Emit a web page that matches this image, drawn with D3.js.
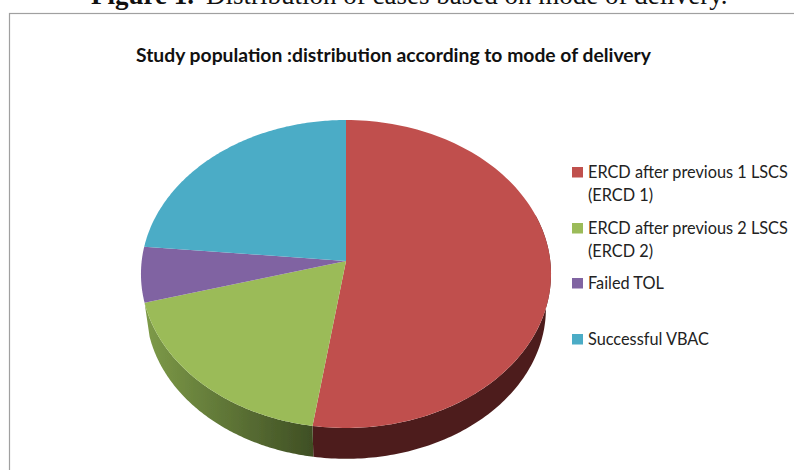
<!DOCTYPE html>
<html>
<head>
<meta charset="utf-8">
<script src="https://cdn.jsdelivr.net/npm/d3@7"></script>
<style>
    html, body { margin: 0; padding: 0; background: #fff; overflow: hidden; }
    svg { display: block; }
</style>
</head>
<body>
<div id="chart"></div>
<script>
const caption = 'Distribution of cases based on mode of delivery.';
const chartTitle = 'Study population :distribution according to mode of delivery';
const categories = ['ERCD after previous 1 LSCS (ERCD 1)', 'ERCD after previous 2 LSCS (ERCD 2)', 'Failed TOL', 'Successful VBAC'];
const legendLines = [['ERCD after previous 1 LSCS', '(ERCD 1)'], ['ERCD after previous 2 LSCS', '(ERCD 2)'], ['Failed TOL'], ['Successful VBAC']];
const shares = [52.4, 18.3, 5.8, 23.5];
const colors = ['#c0504d', '#9bbb59', '#8064a2', '#4bacc6'];

const width = 794;
const height = 470;
const svg = d3.select('#chart').append('svg').attr('width', width).attr('height', height);

// figure caption, cut off by the top of the page
const cap = svg.append('text').attr('x', 91).attr('y', 4)
    .style('font-family', '"Liberation Serif"').style('font-size', '27px').attr('fill', '#111');
cap.append('tspan').style('font-weight', 'bold').text('Figure 1.');
cap.append('tspan').attr('dx', 12).text(caption);

// chart frame
svg.append('rect').attr('x', 9.5).attr('y', 13.5).attr('width', 800).attr('height', 470)
    .attr('fill', '#fff').attr('stroke', '#a0a0a0').attr('stroke-width', 1.2);

svg.append('text').attr('x', 136).attr('y', 62)
    .attr('textLength', 515).attr('lengthAdjust', 'spacingAndGlyphs')
    .style('font-family', 'Lato').style('font-weight', 'bold').style('font-size', '18px')
    .attr('fill', '#111').text(chartTitle);

// pie: angles from d3.pie, tilted with a small perspective
const cx = 346, cy = 261, rx = 204.3, ry = 152.9, k = 0.0844;
const project = (a, scale, dy) => {
    const u = Math.sin(a), v = -Math.cos(a), w = 1 - k * v;
    return [cx + scale * rx * u / w, cy + dy + scale * ry * v / w];
};
const arcs = d3.pie().sort(null).value((d) => d)(shares);
const line = d3.line();
const arcPoints = (a0, a1, scale, dy) =>
    d3.range(0, 121).map((i) => project(a0 + (a1 - a0) * i / 120, scale, dy));

const defs = svg.append('defs');
defs.append('filter').attr('id', 'soft').append('feGaussianBlur').attr('stdDeviation', 0.5);
const sideGrad = defs.append('linearGradient').attr('id', 'greenSide')
    .attr('gradientUnits', 'userSpaceOnUse').attr('x1', 146).attr('x2', 313).attr('y1', 0).attr('y2', 0);
sideGrad.append('stop').attr('offset', '0%').attr('stop-color', '#7d9a48');
sideGrad.append('stop').attr('offset', '100%').attr('stop-color', '#3f4f24');

const pie = svg.append('g').attr('filter', 'url(#soft)');
const sideScale = 0.975, sideDrop = 35;

// side wall, only the front half shows
const sideFill = ['#4e1f1e', 'url(#greenSide)'];
arcs.slice(0, 2).forEach((d, i) => {
    const a0 = Math.max(d.startAngle, Math.PI * 0.4);
    const a1 = Math.min(d.endAngle, Math.PI * 1.42);
    pie.append('path')
        .attr('d', line(arcPoints(a0, a1, 1, 0).concat(arcPoints(a0, a1, sideScale, sideDrop).reverse())) + 'Z')
        .attr('fill', sideFill[i]);
});

// top faces
pie.selectAll('path.slice').data(arcs).enter().append('path')
    .attr('class', 'slice')
    .attr('d', (d) => line([[cx, cy]].concat(arcPoints(d.startAngle, d.endAngle, 1, 0))) + 'Z')
    .attr('fill', (d, i) => colors[i]);

// legend
const legendY = d3.scaleOrdinal().domain(categories).range([167, 223, 278, 334]);
const legend = svg.selectAll('g.legend').data(categories).enter().append('g')
    .attr('class', 'legend')
    .attr('transform', (d) => `translate(572,${legendY(d)})`);
legend.append('rect').attr('width', 11).attr('height', 10.5).attr('fill', (d, i) => colors[i]);
legend.each(function (d, i) {
    d3.select(this).selectAll('text').data(legendLines[i]).enter().append('text')
        .attr('x', 16).attr('y', (t, j) => 11 + j * 23)
        .style('font-family', 'Lato').style('font-size', '16.3px')
        .attr('fill', '#222')
        .text((t) => t);
});
</script>
</body>
</html>
